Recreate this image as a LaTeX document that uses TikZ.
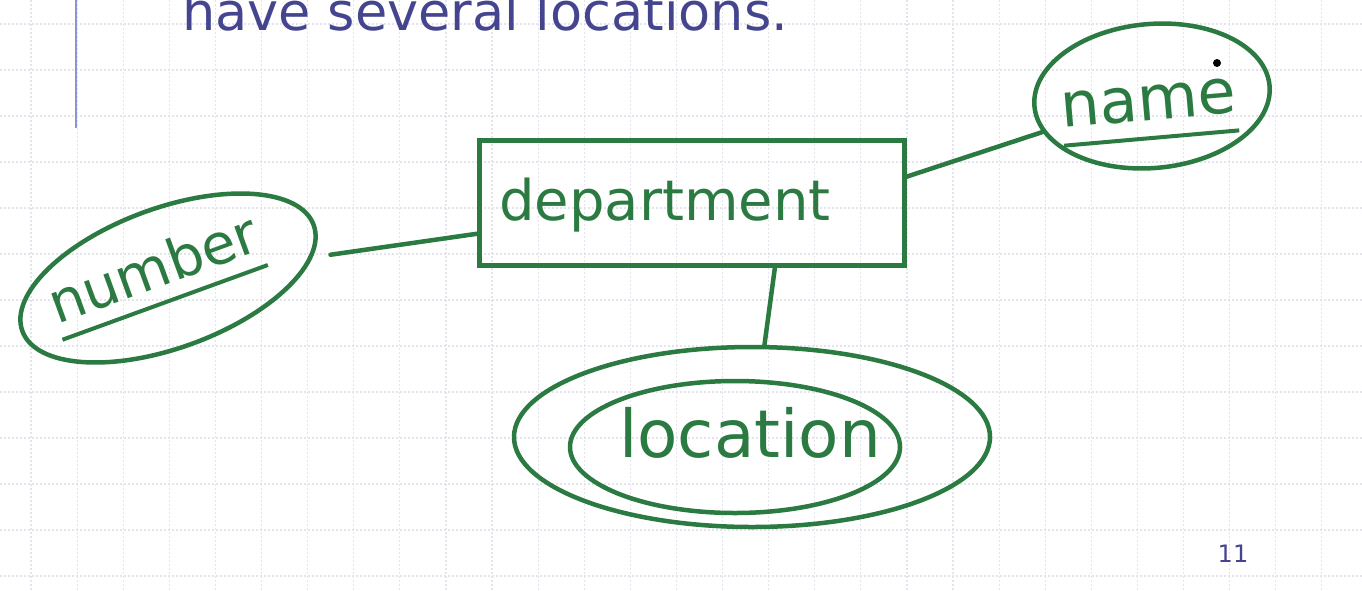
\documentclass[tikz,border=0pt]{standalone}
\usepackage{fontspec}
\setmainfont{DejaVu Sans}
\usepackage{tikz}
\usetikzlibrary{shapes.geometric,positioning}
\definecolor{sgreen}{HTML}{2B7A42}
\definecolor{stitle}{HTML}{45458F}
\definecolor{sbar}{HTML}{8A96D2}
\definecolor{sgrid}{HTML}{E4E4EC}
% pen text: horizontal shift, baseline drop, text
\newcommand{\pen}[3]{\makebox[0pt]{\hspace*{2\dimexpr #1\relax}\raisebox{-#2}[0pt][0pt]{#3}}}
\newcommand{\keyline}[1]{\setbox0\hbox{#1}\rlap{\raisebox{-0.32em}{\rule{\wd0}{4pt}}}\box0}

\begin{document}
\begin{tikzpicture}[x=1pt, y=-1pt,
    entity/.style={rectangle, draw=sgreen, line width=4.5pt, inner sep=0pt, minimum width=425, minimum height=125, text=sgreen, font=\fontsize{56}{60}\selectfont},
    attrib/.style={ellipse, draw=sgreen, line width=4.5pt, inner sep=0pt, text=sgreen},
    link/.style={draw=sgreen, line width=4.5pt, line cap=round},
    gridline/.style={sgrid, line width=1.2pt, dash pattern=on 1.5pt off 2.5pt}
]
    \useasboundingbox[fill=white] (0,0) rectangle (1362,590);
    \clip (0,0) rectangle (1362,590);

    % slide background
    \foreach \gx in {0,...,29} \draw[gridline] ({31+46.1*\gx},0) -- ({31+46.1*\gx},590);
    \foreach \gy in {0,...,12} \draw[gridline] (0,{24+46*\gy}) -- (1362,{24+46*\gy});
    \draw[sbar, line width=2pt] (76,0) -- (76,128);
    \node[anchor=base west, inner sep=0pt, text=stitle, font=\fontsize{52.5}{60}\selectfont] (title) at (182,30) {have several locations.};
    \node[text=stitle, inner sep=0pt, font=\fontsize{24}{28}\selectfont] (pagenum) at (1233,554) {11};

    % ER sketch
    \node[entity] (dept) at (692,203) {\pen{-27pt}{17pt}{department}};
    \node[attrib, minimum width=310, minimum height=140, rotate=20, font=\fontsize{56}{60}\selectfont] (number) at (168,278) {\pen{-11pt}{6pt}{\keyline{number}}};
    \node[attrib, minimum width=236, minimum height=144, rotate=5, font=\fontsize{62}{66}\selectfont] (name) at (1152,96) {\pen{-4pt}{24pt}{\keyline{name}}};
    \node[attrib, minimum width=476, minimum height=180] (locset) at (752,437) {};
    \node[attrib, minimum width=330, minimum height=132, font=\fontsize{66}{70}\selectfont] (location) at (735,447) {\pen{15pt}{10pt}{location}};

    \draw[link, shorten <=18pt] (number) -- (dept);
    \draw[link] (dept.7) -- (name);
    \draw[link] (dept.-38) -- (locset);

    \fill (1217,63) circle (4);
\end{tikzpicture}
\end{document}
